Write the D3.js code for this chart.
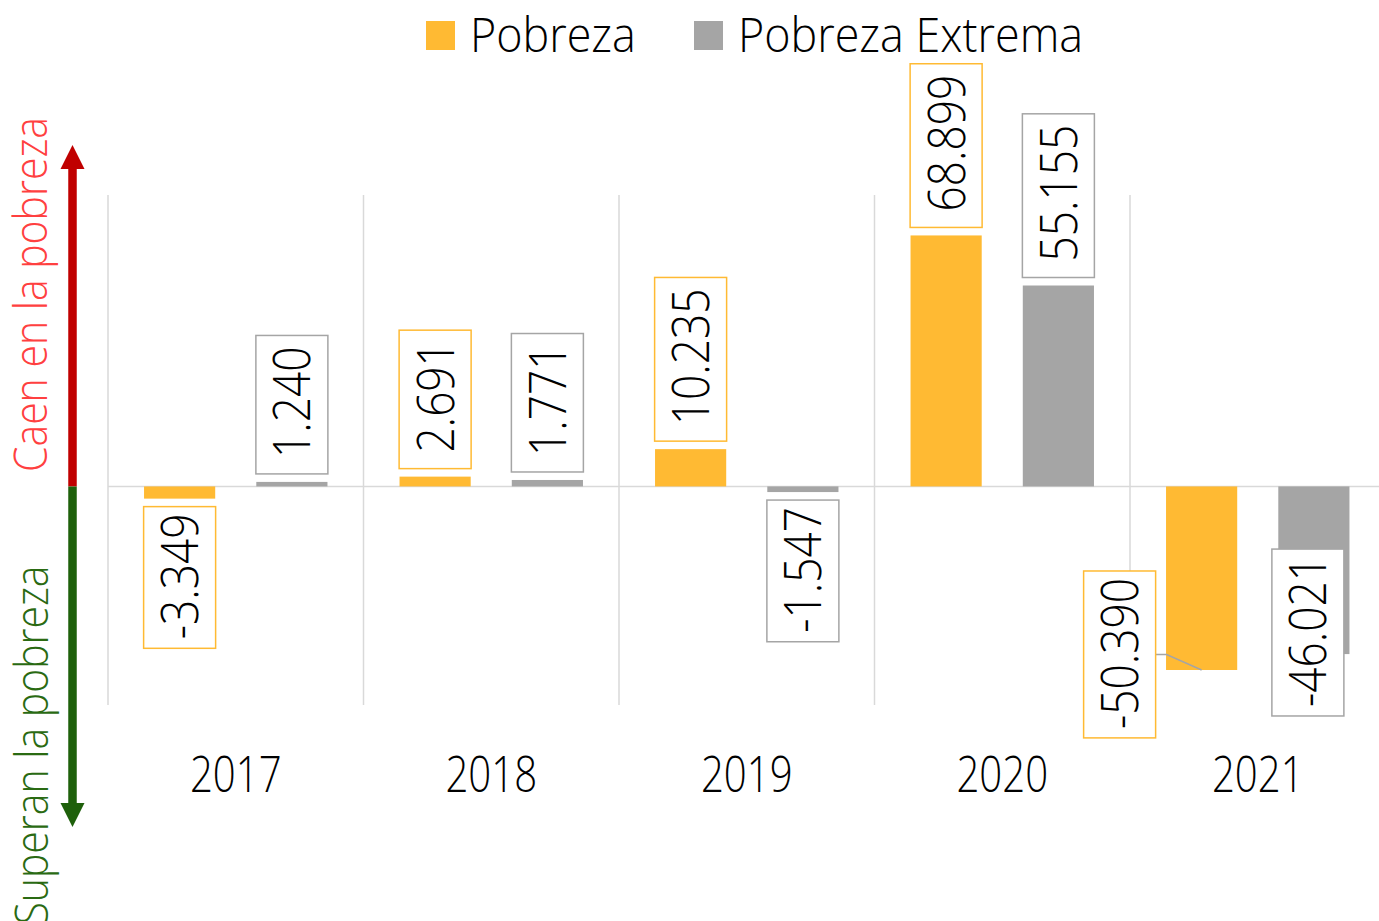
<!DOCTYPE html>
<html>
<head>
<meta charset="utf-8">
<script src="https://cdn.jsdelivr.net/npm/d3@7"></script>
<style>
  html, body { margin: 0; padding: 0; background: #fff; }
  svg { display: block; font-family: "Open Sans", "Noto Sans", sans-serif; font-weight: 300; }
</style>
</head>
<body>
<svg id="chart" width="1379" height="921"></svg>
<script>
// ---- data ----
const years = ["2017", "2018", "2019", "2020", "2021"];
const seriesNames = ["Pobreza", "Pobreza Extrema"];
const pobreza = [-3349, 2691, 10235, 68899, -50390];
const pobrezaExtrema = [1240, 1771, -1547, 55155, -46021];
const yDomain = [-60000, 80000];
const sideLabels = ["Caen en la pobreza", "Superan la pobreza"];

// ---- styles ----
const colors = { "Pobreza": "#FFBA33", "Pobreza Extrema": "#A5A5A5" };
const labelNudge = { // manual label moves (as in the original)
  "2021|Pobreza": { dx: -82, dy: -107, leader: true },
  "2021|Pobreza Extrema": { dx: -6, dy: -113 }
};

const svg = d3.select("#chart");
const fmt = d3.formatLocale({ decimal: ",", thousands: ".", grouping: [3], currency: ["$", ""], minus: "-" }).format(",d");

const x = d3.scaleBand().domain(years).range([108, 1385.5]).padding(0);
const xs = d3.scaleBand().domain(seriesNames).range([0, x.bandwidth()]).paddingInner(0.366).paddingOuter(0.321);
const y = d3.scaleLinear().domain(yDomain).range([705, 195]);

const data = [];
years.forEach((yr, i) => {
  data.push({ year: yr, series: "Pobreza", value: pobreza[i] });
  data.push({ year: yr, series: "Pobreza Extrema", value: pobrezaExtrema[i] });
});

// gridlines (vertical category separators)
const gridX = years.map(d => x(d)).concat([x.range()[1]]);
svg.append("g").selectAll("line").data(gridX).join("line")
  .attr("x1", d => d).attr("x2", d => d)
  .attr("y1", y(yDomain[1])).attr("y2", y(yDomain[0]))
  .attr("stroke", "#D9D9D9").attr("stroke-width", 1.5);

// zero line
svg.append("line")
  .attr("x1", x.range()[0]).attr("x2", x.range()[1])
  .attr("y1", y(0)).attr("y2", y(0))
  .attr("stroke", "#D9D9D9").attr("stroke-width", 1.5);

// bars
svg.append("g").selectAll("rect").data(data).join("rect")
  .attr("x", d => x(d.year) + xs(d.series))
  .attr("width", xs.bandwidth())
  .attr("y", d => y(Math.max(0, d.value)))
  .attr("height", d => Math.abs(y(d.value) - y(0)))
  .attr("fill", d => colors[d.series]);

// category axis
const ax = svg.append("g").attr("transform", `translate(0,${y(yDomain[0])})`)
  .call(d3.axisBottom(x).tickSize(0).tickPadding(52));
ax.select(".domain").remove();
ax.selectAll("text")
  .attr("font-family", "'Open Sans', sans-serif")
  .attr("font-weight", 300)
  .attr("font-size", 49)
  .attr("fill", "#000")
  .attr("transform", "scale(0.82,1)");

// data labels
const LS = 0.85, LFS = 52, BOXW = 72, GAP = 8;
const lab = svg.append("g").selectAll("g").data(data).join("g");
lab.each(function(d) {
  const g = d3.select(this);
  const padStart = d.value >= 0 ? 16 : 9;
  const padEnd = d.value >= 0 ? 11 : 7;
  const t = g.append("text")
    .attr("font-size", LFS)
    .attr("text-anchor", "middle")
    .attr("dy", "0.357em")
    .attr("fill", "#000")
    .text(fmt(d.value));
  const L = t.node().getComputedTextLength() * LS;
  const h = L + padStart + padEnd;
  const cx0 = x(d.year) + xs(d.series) + xs.bandwidth() / 2;
  let cy = d.value >= 0 ? y(d.value) - GAP - h / 2 : y(d.value) + GAP + h / 2;
  let cx = cx0;
  const n = labelNudge[d.year + "|" + d.series];
  if (n) { cx += n.dx; cy += n.dy; }
  if (n && n.leader) {
    const bx = cx + BOXW / 2;
    g.insert("polyline", "text")
      .attr("points", `${bx},${cy} ${bx + 11},${cy} ${cx0},${y(d.value)}`)
      .attr("fill", "none").attr("stroke", "#A5A5A5").attr("stroke-width", 1.5);
  }
  g.insert("rect", "text")
    .attr("x", cx - BOXW / 2).attr("y", cy - h / 2)
    .attr("width", BOXW).attr("height", h)
    .attr("fill", "#fff")
    .attr("stroke", colors[d.series]).attr("stroke-width", 1.5);
  const tc = cy + (padEnd - padStart) / 2;
  t.attr("transform", `translate(${cx},${tc}) rotate(-90) scale(${LS},1)`);
});

// legend
const legend = svg.append("g");
const legX = [426, 694];
seriesNames.forEach((s, i) => {
  legend.append("rect").attr("x", legX[i]).attr("y", 21).attr("width", 29).attr("height", 29).attr("fill", colors[s]);
  legend.append("text")
    .attr("transform", `translate(${legX[i] + 44},52) scale(0.955,1)`)
    .attr("font-size", 47).attr("fill", "#000").text(s);
});

// side annotations: arrows + labels
const ax0 = 72.5, z = y(0);
svg.append("line").attr("x1", ax0).attr("x2", ax0).attr("y1", z).attr("y2", 167)
  .attr("stroke", "#C00000").attr("stroke-width", 8.5);
svg.append("path").attr("d", `M${ax0 - 12},169 L${ax0 + 12},169 L${ax0},145 Z`).attr("fill", "#C00000");
svg.append("line").attr("x1", ax0).attr("x2", ax0).attr("y1", z).attr("y2", 805)
  .attr("stroke", "#1E600B").attr("stroke-width", 8.5);
svg.append("path").attr("d", `M${ax0 - 12},803 L${ax0 + 12},803 L${ax0},827 Z`).attr("fill", "#1E600B");

svg.append("text")
  .attr("transform", `translate(47,294.5) rotate(-90) scale(0.89,1)`)
  .attr("text-anchor", "middle").attr("font-size", 46).attr("fill", "#FF4040")
  .text(sideLabels[0]);
svg.append("text")
  .attr("transform", `translate(48,745) rotate(-90) scale(0.89,1)`)
  .attr("text-anchor", "middle").attr("font-size", 46).attr("fill", "#2A6A12")
  .text(sideLabels[1]);
</script>
</body>
</html>
